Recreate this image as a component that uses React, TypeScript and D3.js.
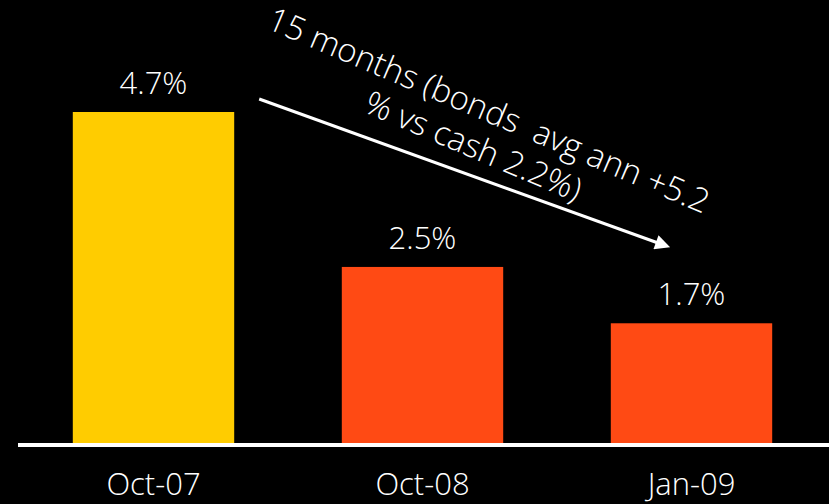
import * as d3 from "d3";
import { useEffect, useRef } from "react";

const WIDTH = 829;
const HEIGHT = 504;

const categories = ["Oct-07", "Oct-08", "Jan-09"];
const yields = [4.7, 2.5, 1.7];
const barColors = ["#FFCC00", "#FF4A14", "#FF4A14"];
const noteLines = ["15 months (bonds  avg ann +5.2", "% vs cash 2.2%)"];

const LABEL_FONT = "'Open Sans', Lato, sans-serif";

export default function App() {
  const ref = useRef<SVGSVGElement>(null);

  useEffect(() => {
    const svg = d3.select(ref.current);
    svg.selectAll("*").remove();

    const x = d3
      .scaleBand<string>()
      .domain(categories)
      .range([19, 826])
      .paddingInner(0.4)
      .paddingOuter(0.2);

    const y = d3.scaleLinear().domain([0, 4.7]).range([443, 112]);

    const data = categories.map((c, i) => ({ cat: c, v: yields[i], color: barColors[i] }));

    svg.append("rect").attr("width", WIDTH).attr("height", HEIGHT).attr("fill", "#000");

    svg
      .selectAll("rect.bar")
      .data(data)
      .enter()
      .append("rect")
      .attr("class", "bar")
      .attr("x", (d) => x(d.cat)!)
      .attr("y", (d) => y(d.v))
      .attr("width", x.bandwidth())
      .attr("height", (d) => y(0) - y(d.v))
      .attr("fill", (d) => d.color);

    svg
      .selectAll("text.val")
      .data(data)
      .enter()
      .append("text")
      .attr("class", "val")
      .attr("x", (d) => x(d.cat)! + x.bandwidth() / 2)
      .attr("y", (d) => y(d.v) - 18)
      .attr("text-anchor", "middle")
      .attr("fill", "#fff")
      .style("font-family", LABEL_FONT)
      .style("font-weight", 300)
      .style("font-size", "31px")
      .text((d) => `${d.v.toFixed(1)}%`);

    // baseline
    svg
      .append("line")
      .attr("x1", 18)
      .attr("x2", WIDTH)
      .attr("y1", y(0) + 2)
      .attr("y2", y(0) + 2)
      .attr("stroke", "#fff")
      .attr("stroke-width", 4);

    svg
      .selectAll("text.cat")
      .data(data)
      .enter()
      .append("text")
      .attr("class", "cat")
      .attr("x", (d) => x(d.cat)! + x.bandwidth() / 2)
      .attr("y", 495)
      .attr("text-anchor", "middle")
      .attr("fill", "#fff")
      .style("font-family", LABEL_FONT)
      .style("font-weight", 300)
      .style("font-size", "31px")
      .text((d) => d.cat);

    // arrow annotation
    const defs = svg.append("defs");
    defs
      .append("marker")
      .attr("id", "arrowhead")
      .attr("viewBox", "0 0 10 10")
      .attr("refX", 2)
      .attr("refY", 5)
      .attr("markerWidth", 6)
      .attr("markerHeight", 5)
      .attr("markerUnits", "strokeWidth")
      .attr("orient", "auto")
      .append("path")
      .attr("d", "M0,0 L10,5 L0,10 Z")
      .attr("fill", "#fff");

    const x0 = x(categories[0])! + x.bandwidth() + 25;
    const y0 = y(yields[0]) - 13;
    const x1 = x(categories[2])! + 48;
    const y1 = y(yields[2]) - 80;
    svg
      .append("line")
      .attr("x1", x0)
      .attr("y1", y0)
      .attr("x2", x1)
      .attr("y2", y1)
      .attr("stroke", "#fff")
      .attr("stroke-width", 3)
      .attr("marker-end", "url(#arrowhead)");

    const note = svg
      .append("text")
      .attr("transform", "translate(480,131) rotate(23)")
      .attr("text-anchor", "middle")
      .attr("fill", "#fff")
      .style("font-family", LABEL_FONT)
      .style("font-weight", 300)
      .style("font-size", "33px");
    noteLines.forEach((t, i) => {
      note
        .append("tspan")
        .attr("x", 0)
        .attr("y", i === 0 ? -11 : 28)
        .style("white-space", "pre")
        .text(t);
    });
  }, []);

  return (
    <svg
      ref={ref}
      width={WIDTH}
      height={HEIGHT}
      style={{ position: "absolute", left: 0, top: 0, display: "block" }}
    />
  );
}
